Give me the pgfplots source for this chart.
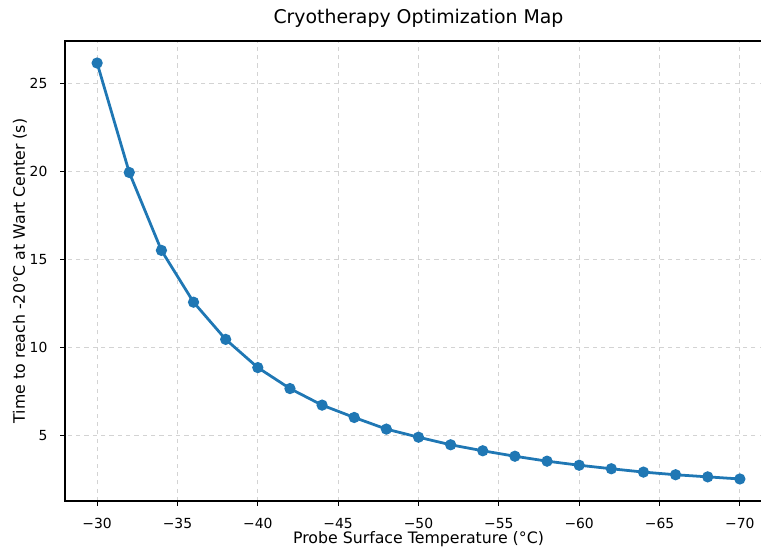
\documentclass[border=0pt]{standalone}
\usepackage{pgfplots}
\pgfplotsset{compat=1.18}
\usepackage{fontspec}
\setmainfont{DejaVu Sans}
\definecolor{mplblue}{HTML}{1F77B4}
\definecolor{gridc}{HTML}{D3D3D3}
\begin{document}
\begin{tikzpicture}
\begin{axis}[
  at={(0,0)}, anchor=south west,
  scale only axis,
  width=509.04pt, height=331.2pt,
  x dir=reverse,
  xmin=-72, xmax=-28,
  ymin=1.3, ymax=27.4,
  xtick={-30,-35,-40,-45,-50,-55,-60,-65,-70},
  xticklabels={−30,−35,−40,−45,−50,−55,−60,−65,−70},
  ytick={5,10,15,20,25},
  yticklabels={5,10,15,20,25},
  tick align=outside,
  major tick length=3.5pt,
  every tick/.style={black, line width=0.8pt},
  axis line style={line width=0.8pt},
  tick label style={font=\fontsize{10}{12}\selectfont, inner sep=0pt},
  xticklabel style={anchor=north, yshift=-8.5pt},
  yticklabel style={anchor=east, xshift=-9pt},
  xtick pos=bottom, ytick pos=left,
  grid=major,
  major grid style={gridc, dashed, line width=0.8pt},
  title={Cryotherapy Optimization Map},
  title style={at={(axis description cs:0.5,1)}, anchor=base, yshift=6.5pt, inner sep=0pt, font=\fontsize{13.6}{16}\selectfont},
  xlabel={Probe Surface Temperature (°C)},
  ylabel={Time to reach -20°C at Wart Center (s)},
  every axis x label/.style={at={(axis description cs:0.5,0)}, anchor=north, yshift=-22pt, inner sep=0pt, font=\fontsize{11.35}{13}\selectfont},
  every axis y label/.style={at={(axis description cs:0,0.5)}, anchor=center, rotate=90, yshift=32.4pt, inner sep=0pt, font=\fontsize{11.35}{13}\selectfont},
]
\addplot[mplblue, line width=2pt, mark=*, mark size=3pt, mark options={solid, fill=mplblue, draw=mplblue}] coordinates {
(-30,26.15) (-32,19.94) (-34,15.52) (-36,12.58) (-38,10.47) (-40,8.87) (-42,7.68) (-44,6.74) (-46,6.04) (-48,5.38) (-50,4.92) (-52,4.49) (-54,4.15) (-56,3.84) (-58,3.56) (-60,3.33) (-62,3.13) (-64,2.94) (-66,2.79) (-68,2.67) (-70,2.55)
};
\end{axis}
\pgfresetboundingbox
\useasboundingbox (-46.8pt,-33.12pt) rectangle (501.12pt,360.72pt);
\end{tikzpicture}
\end{document}
